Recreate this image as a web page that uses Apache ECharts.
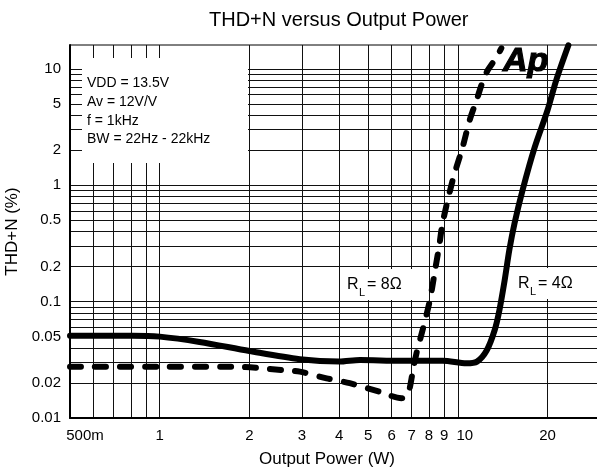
<!DOCTYPE html>
<html><head><meta charset="utf-8">
<script src="https://cdn.jsdelivr.net/npm/echarts@6/dist/echarts.min.js"></script>
<style>html,body{margin:0;padding:0;background:#fff}#c{width:597px;height:470px}</style>
</head><body><div id="c"></div>
<script>
// ---- data ----
const xTickLabels = [0.5, 1, 2, 3, 4, 5, 6, 7, 8, 9, 10, 20];
const xGridValues = [0.6, 0.7, 0.8, 0.9, 1, 2, 3, 4, 5, 6, 7, 8, 9, 10, 20];
const yTickLabels = [0.01, 0.02, 0.05, 0.1, 0.2, 0.5, 1, 2, 5, 10];
const yGridValues = [0.02, 0.03, 0.04, 0.05, 0.06, 0.07, 0.08, 0.09,
                     0.1, 0.2, 0.3, 0.4, 0.5, 0.6, 0.7, 0.8, 0.9,
                     1, 2, 3, 4, 5, 6, 7, 8, 9, 10];

// R_L = 4 ohm (solid)
const power4 = [0.5, 0.63, 0.81, 1.0, 1.36, 2.0, 2.95, 4.0, 4.7, 6.4, 8.9, 10.7, 11.6, 12.5, 13.3, 13.8, 14.35, 14.9, 15.5, 16.5, 18.1, 20.0, 21.4, 23.5];
const thd4   = [0.051, 0.051, 0.051, 0.050, 0.045, 0.0376, 0.032, 0.0305, 0.0315, 0.031, 0.031, 0.0295, 0.0305, 0.038, 0.057, 0.085, 0.15, 0.28, 0.47, 0.91, 2.1, 4.4, 8.0, 15.9];

// R_L = 8 ohm (dashed)
const power8 = [0.5, 1.0, 1.76, 2.59, 2.95, 3.63, 4.34, 5.47, 6.48, 6.79, 7.05, 7.27, 7.62, 8.04, 8.36, 8.69, 8.89, 9.61, 10.38, 10.96, 11.56, 12.1, 12.6, 13.5, 14.0];
const thd8   = [0.0276, 0.0276, 0.0276, 0.0258, 0.025, 0.0219, 0.0199, 0.0168, 0.0148, 0.0158, 0.0243, 0.0361, 0.0569, 0.0996, 0.176, 0.318, 0.472, 1.10, 2.12, 3.61, 5.37, 7.66, 9.7, 12.6, 15.0];

const titleText = 'THD+N versus Output Power';
const xName = 'Output Power (W)';
const yName = 'THD+N (%)';
const conditions = ['VDD = 13.5V', 'Av = 12V/V', 'f = 1kHz', 'BW = 22Hz - 22kHz'];

// ---- chart ----
const FONT = '"Liberation Sans", Arial, sans-serif';
const zip = (xs, ys) => xs.map((x, i) => [x, ys[i]]);
const fmt = v => String(Number(Number(v).toPrecision(4)));

const chart = echarts.init(document.getElementById('c'), null, {renderer: 'canvas'});

function rlLabel(x, y, w, ohm) {
  return {
    type: 'group', z: 1,
    children: [
      {type: 'rect', shape: {x: x - 4, y: y - 16, width: w, height: 31}, style: {fill: '#fff'}, z: 1},
      {type: 'text', x: x, y: y, z: 1, style: {text: 'R', font: '16px ' + FONT, fill: '#000', textVerticalAlign: 'middle'}},
      {type: 'text', x: x + 12, y: y + 8, z: 1, style: {text: 'L', font: '11px ' + FONT, fill: '#000', textVerticalAlign: 'middle'}},
      {type: 'text', x: x + 20, y: y, z: 1, style: {text: '= ' + ohm + 'Ω', font: '16px ' + FONT, fill: '#000', textVerticalAlign: 'middle'}}
    ]
  };
}

const option = {
  backgroundColor: '#fff',
  animation: false,
  title: {
    text: titleText, left: 204, top: 5,
    textStyle: {fontSize: 20, fontWeight: 'normal', color: '#000', fontFamily: FONT}
  },
  grid: {left: 70, top: 45, right: -3, bottom: 52, show: true, borderColor: '#000', borderWidth: 1, backgroundColor: '#fff', containLabel: false, outerBoundsMode: 'none'},
  xAxis: {
    type: 'log', logBase: 10, min: 0.5, max: 30,
    name: xName, nameLocation: 'middle', nameGap: 33,
    nameTextStyle: {fontSize: 17, color: '#000', fontFamily: FONT, padding: [0, 16, 0, 0]},
    axisLine: {show: true, onZero: false, lineStyle: {color: '#000', width: 2}},
    axisTick: {show: false, customValues: xGridValues},
    minorTick: {show: false},
    splitLine: {show: true, lineStyle: {color: '#111', width: 1}},
    minorSplitLine: {show: false},
    axisLabel: {
      customValues: xTickLabels, color: '#000', fontSize: 15, fontFamily: FONT, margin: 10,
      formatter: v => {
        if (Math.abs(v - 0.5) < 1e-6) return '{m|500m}';
        if (Math.abs(v - 10) < 1e-6) return '{t|10}';
        return fmt(v);
      },
      rich: {
        m: {padding: [0, 0, 0, 30], fontSize: 15, color: '#000', fontFamily: FONT},
        t: {padding: [0, 0, 0, 14], fontSize: 15, color: '#000', fontFamily: FONT}
      }
    }
  },
  yAxis: {
    type: 'log', logBase: 10, min: 0.01, max: 16,
    name: yName, nameLocation: 'middle', nameGap: 44,
    nameTextStyle: {fontSize: 17, color: '#000', fontFamily: FONT},
    axisLine: {show: true, onZero: false, lineStyle: {color: '#000', width: 2}},
    axisTick: {show: false, customValues: yGridValues},
    minorTick: {show: false},
    splitLine: {show: true, lineStyle: {color: '#111', width: 1}},
    minorSplitLine: {show: false},
    axisLabel: {customValues: yTickLabels, color: '#000', fontSize: 15, fontFamily: FONT, margin: 9, formatter: v => fmt(v)}
  },
  graphic: [
    {type: 'rect', z: 1, shape: {x: 82, y: 58, width: 166, height: 105}, style: {fill: '#fff'}},
    {type: 'text', z: 1, x: 87, y: 74, style: {text: conditions.join('\n'), font: '14px ' + FONT, fill: '#000', lineHeight: 18.7, textVerticalAlign: 'top'}},
    rlLabel(347, 285, 85, 8),
    rlLabel(518, 284, 68, 4),
    {type: 'text', z: 5, x: 503, y: 45, style: {text: 'Ap', font: 'italic bold 34px ' + FONT, fill: '#000', stroke: '#000', lineWidth: 1.2, textVerticalAlign: 'top'}}
  ],
  series: [
    {
      name: 'RL = 4Ω', type: 'line', data: zip(power4, thd4),
      showSymbol: false, smooth: 0.3, z: 3,
      lineStyle: {color: '#000', width: 6, cap: 'round', join: 'round'}
    },
    {
      name: 'RL = 8Ω', type: 'line', data: zip(power8, thd8),
      showSymbol: false, smooth: 0.3, z: 3,
      lineStyle: {color: '#000', width: 6, type: [11, 14], cap: 'round', join: 'round'}
    }
  ]
};
chart.setOption(option);
</script>
</body></html>
